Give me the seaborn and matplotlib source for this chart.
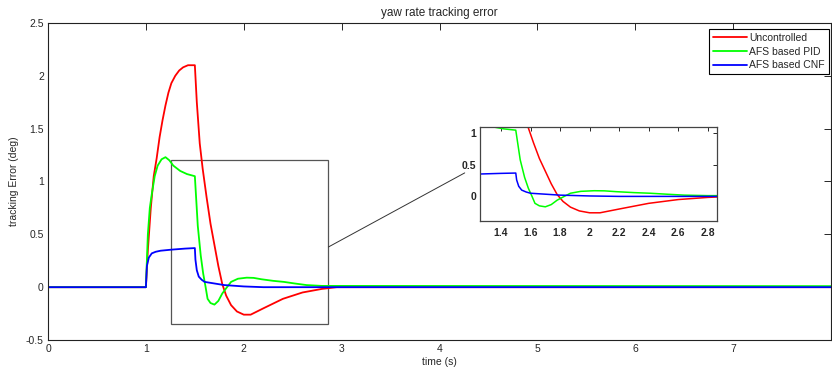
import numpy as np
import pandas as pd
import matplotlib
matplotlib.use("Agg")
import matplotlib.pyplot as plt
from matplotlib.patches import Rectangle, ConnectionPatch
import seaborn as sns

# data (time in s, error in deg)
t_unc = [0, 1.0, 1.02, 1.05, 1.08, 1.11, 1.14, 1.17, 1.2, 1.23, 1.26, 1.3, 1.34,
         1.38, 1.43, 1.5, 1.52, 1.55, 1.58, 1.62, 1.66, 1.7, 1.74, 1.78, 1.82,
         1.87, 1.93, 2.0, 2.07, 2.2, 2.4, 2.6, 2.8, 2.95, 8.0]
e_unc = [0, 0, 0.35, 0.75, 1.05, 1.22, 1.42, 1.58, 1.72, 1.84, 1.93, 2.0, 2.05,
         2.08, 2.1, 2.1, 1.75, 1.36, 1.12, 0.85, 0.6, 0.4, 0.2, 0.03, -0.08,
         -0.17, -0.23, -0.26, -0.26, -0.2, -0.11, -0.05, -0.016, 0, 0]

t_pid = [0, 1.0, 1.02, 1.04, 1.06, 1.09, 1.12, 1.16, 1.2, 1.24, 1.28, 1.35, 1.42,
         1.5, 1.53, 1.56, 1.585, 1.61, 1.63, 1.66, 1.7, 1.74, 1.78, 1.82, 1.87,
         1.94, 2.03, 2.1, 2.18, 2.3, 2.41, 2.52, 2.64, 2.8, 8.0]
e_pid = [0, 0, 0.5, 0.75, 0.88, 1.05, 1.15, 1.21, 1.23, 1.2, 1.15, 1.1, 1.07,
         1.05, 0.58, 0.3, 0.13, 0.0, -0.11, -0.15, -0.165, -0.13, -0.06, -0.01,
         0.05, 0.08, 0.09, 0.088, 0.075, 0.06, 0.05, 0.035, 0.02, 0.012, 0.01]

t_cnf = [0, 1.0, 1.01, 1.03, 1.06, 1.1, 1.15, 1.26, 1.4, 1.5, 1.506, 1.52, 1.54,
         1.57, 1.6, 1.7, 1.8, 2.0, 2.2, 8.0]
e_cnf = [0, 0, 0.2, 0.28, 0.32, 0.335, 0.345, 0.355, 0.365, 0.37, 0.26, 0.16, 0.1,
         0.07, 0.05, 0.035, 0.02, 0.007, 0, 0]

names = ["Uncontrolled", "AFS based PID", "AFS based CNF"]
colors = ["#ff0000", "#00ff00", "#0000ff"]

df = pd.concat([
    pd.DataFrame({"t": t_unc, "e": e_unc, "ctrl": names[0]}),
    pd.DataFrame({"t": t_pid, "e": e_pid, "ctrl": names[1]}),
    pd.DataFrame({"t": t_cnf, "e": e_cnf, "ctrl": names[2]}),
])
pal = dict(zip(names, colors))

sns.set_style("white")
plt.rcParams["font.family"] = ["Liberation Sans", "DejaVu Sans"]

fig = plt.figure(figsize=(8.32, 3.7), dpi=100)
ax = fig.add_axes([0.0577, 0.081, 0.9413, 0.857])

sns.lineplot(data=df, x="t", y="e", hue="ctrl", palette=pal, sort=False,
             estimator=None, lw=1.3, ax=ax)
ax.set_xlim(0, 8)
ax.set_ylim(-0.5, 2.5)
ax.set_xticks(range(0, 8))
ax.set_yticks(np.arange(-0.5, 2.51, 0.5))
ax.set_yticklabels(["-0.5", "0", "0.5", "1", "1.5", "2", "2.5"])
ax.tick_params(direction="in", top=True, right=True, labelsize=7.5, length=5,
               width=0.7, pad=3)
for s in ax.spines.values():
    s.set_color("#222222")
    s.set_linewidth(0.8)
ax.set_title("yaw rate tracking error", fontsize=8.5, pad=5)
ax.set_xlabel("time (s)", fontsize=7.5, labelpad=2)
ax.set_ylabel("tracking Error (deg)", fontsize=7.5, labelpad=5)

leg = ax.legend(loc="upper right", bbox_to_anchor=(0.9964, 0.9224),
                bbox_transform=fig.transFigure, borderaxespad=0, fontsize=7.5,
                handlelength=3.3, handletextpad=0.2, borderpad=0.4,
                labelspacing=0.35, fancybox=False, framealpha=1)
leg.get_frame().set_edgecolor("black")
leg.get_frame().set_linewidth(0.8)
for ln in leg.get_lines():
    ln.set_linewidth(1.3)

# zoom box
ax.add_patch(Rectangle((1.255, -0.353), 2.864 - 1.255, 1.204 + 0.353,
                       fill=False, edgecolor="#555555", lw=0.9))

# inset
axi = fig.add_axes([0.5773, 0.4027, 0.2841, 0.2549])
sns.lineplot(data=df, x="t", y="e", hue="ctrl", palette=pal, sort=False,
             estimator=None, lw=1.1, ax=axi, legend=False)
axi.set_xlim(1.26, 2.86)
axi.set_ylim(-0.39, 1.105)
axi.set_xticks(np.arange(1.4, 2.81, 0.2))
axi.set_xticklabels(["1.4", "1.6", "1.8", "2", "2.2", "2.4", "2.6", "2.8"])
axi.set_yticks([0, 0.5, 1])
axi.set_yticklabels(["0", "0.5", "1"])
axi.set_xlabel("")
axi.set_ylabel("")
axi.tick_params(direction="in", top=True, right=True, labelsize=7.5, length=3,
                width=0.7, pad=3)
axi.tick_params(axis="x", pad=5)
for lab in axi.get_xticklabels() + axi.get_yticklabels():
    lab.set_fontweight("bold")
for s in axi.spines.values():
    s.set_color("#444444")
    s.set_linewidth(0.9)

con = ConnectionPatch(xyA=(2.864, 0.38), coordsA=ax.transData,
                      xyB=(-0.066, 0.51), coordsB=axi.transAxes,
                      color="#333333", lw=0.7)
fig.add_artist(con)

fig.savefig("out.png", dpi=100)
